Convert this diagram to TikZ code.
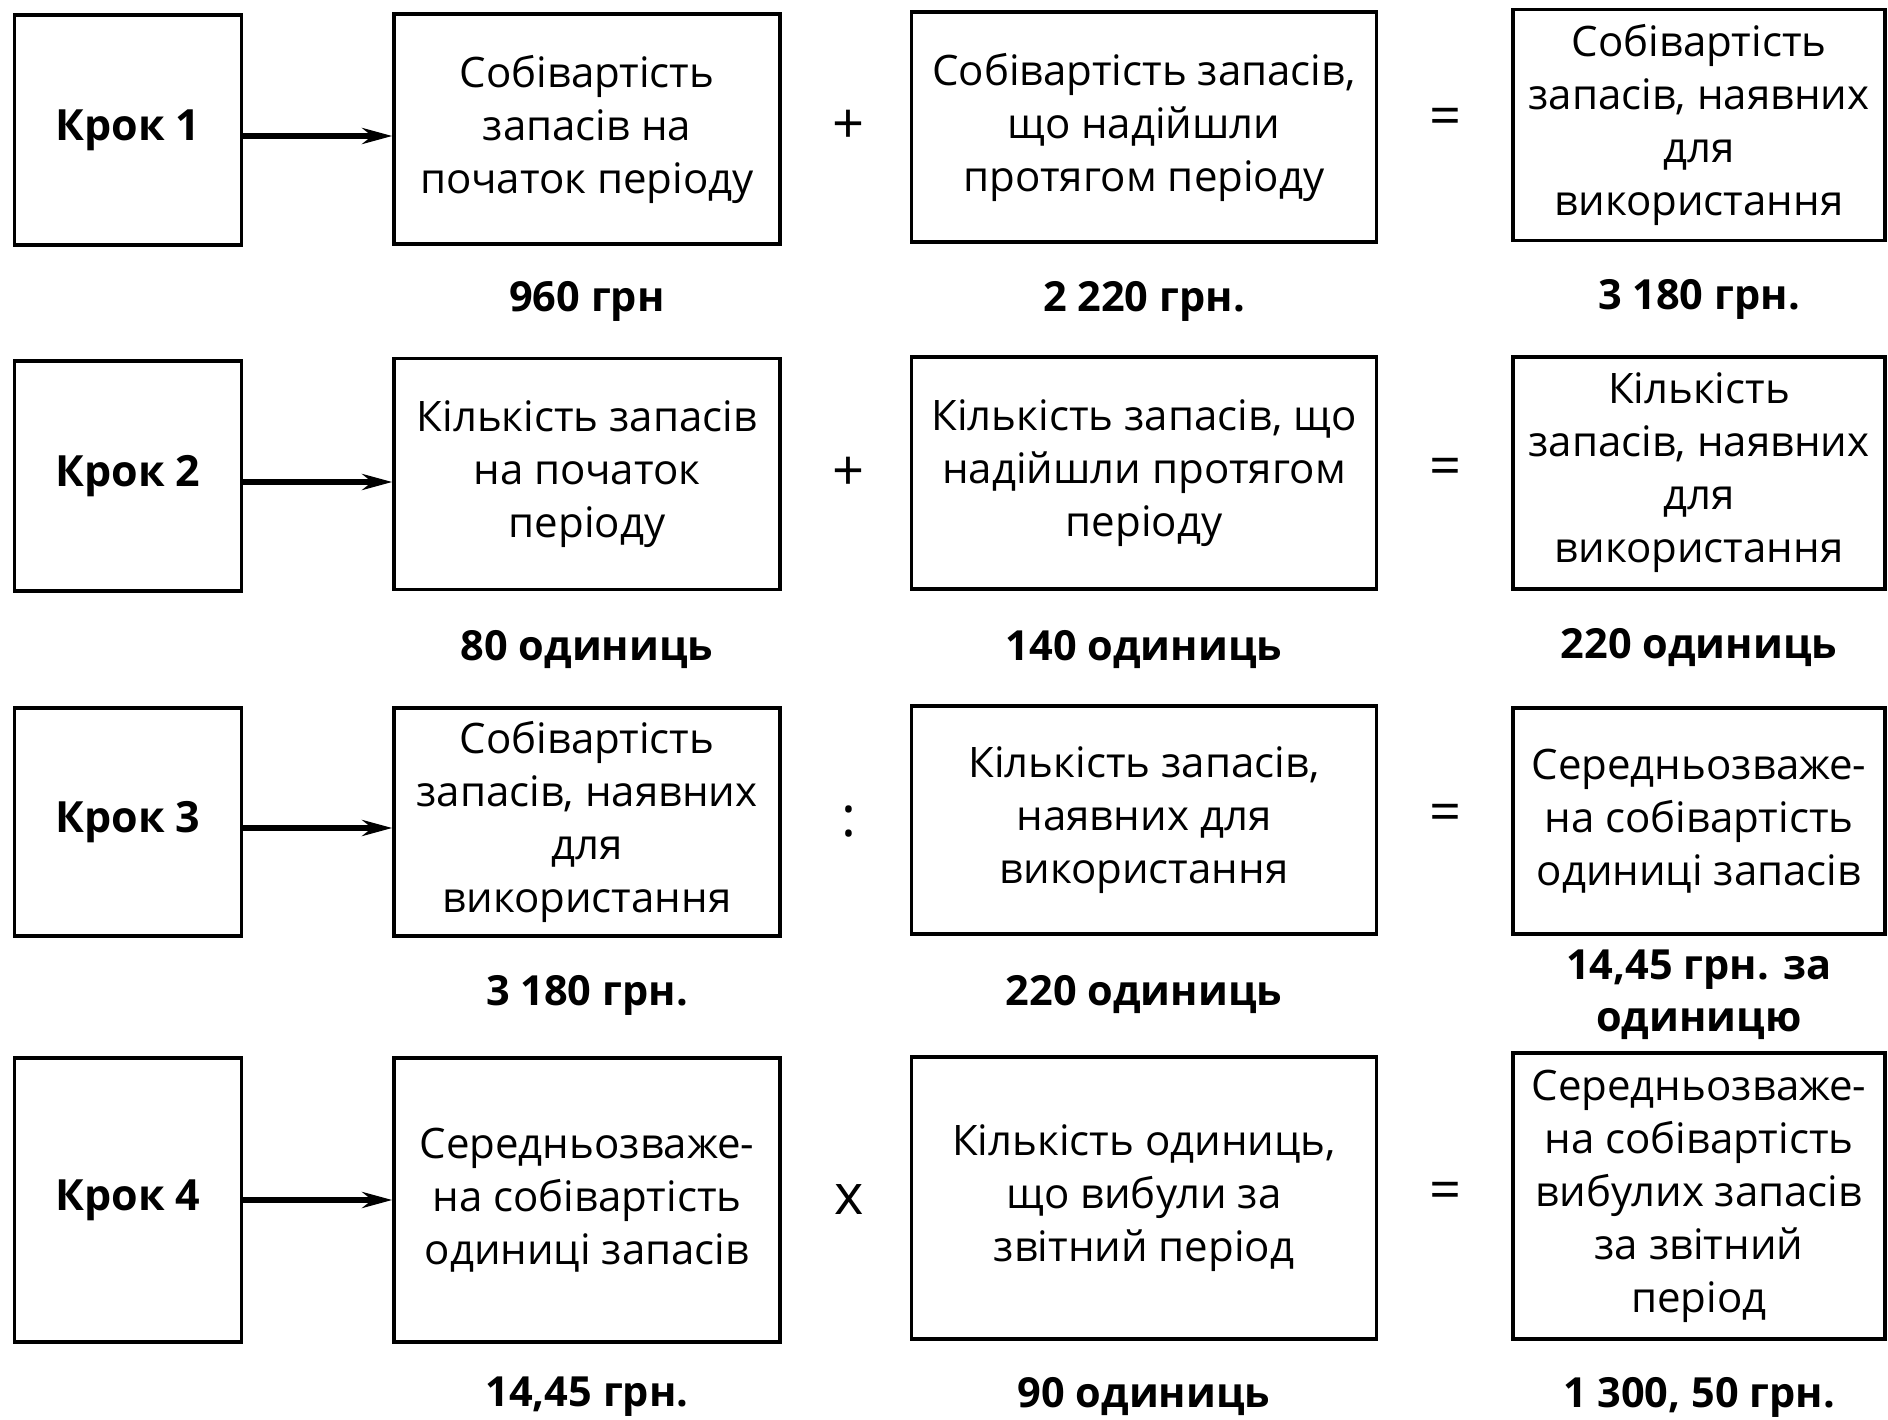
\documentclass[tikz,border=0pt]{standalone}
\usepackage{fontspec}
\setmainfont{Open Sans}
\usetikzlibrary{positioning, arrows.meta}

\begin{document}
\begin{tikzpicture}[x=1pt, y=-1pt, thick,
  stepbox/.style={draw, line width=3.5pt, align=center, inner sep=2pt, font=\fontsize{42}{53}\selectfont},
  krok/.style={stepbox, minimum width=227pt, minimum height=230pt, font=\fontsize{43}{53}\selectfont\bfseries},
  colb/.style={stepbox, minimum width=386pt},
  colc/.style={stepbox, minimum width=465pt},
  cold/.style={stepbox, minimum width=372pt},
  value/.style={align=center, font=\fontsize{41.5}{52}\selectfont\bfseries},
  op/.style={font=\fontsize{56}{60}\selectfont},
  link/.style={-{Stealth[length=30pt, width=16pt]}, line width=5.5pt}]

  \useasboundingbox (0,0) rectangle (1888,1420);

  % Row 1
  \node[krok] (k1) at (128,130) {Крок 1};
  \node[colb, minimum height=230pt] (b1) at (587,129) {Собівартість\\запасів на\\початок періоду};
  \node[colc, minimum height=230pt] (c1) at (1144,127) {Собівартість запасів,\\що надійшли\\протягом періоду};
  \node[cold, minimum height=231pt] (d1) at (1699,125) {Собівартість\\запасів, наявних\\для\\використання};
  \node[op] (p1) at (849,127) {+};
  \node[op] (e1) at (1445,122) {=};
  \node[value] (vb1) at (587,301) {960 грн};
  \node[value] (vc1) at (1144,301) {2 220 грн.};
  \node[value] (vd1) at (1699,299) {3 180 грн.};

  % Row 2
  \node[krok] (k2) at (128,476) {Крок 2};
  \node[colb, minimum height=231pt] (b2) at (587,474) {Кількість запасів\\на початок\\періоду};
  \node[colc, minimum height=232pt] (c2) at (1144,473) {Кількість запасів, що\\надійшли протягом\\періоду};
  \node[cold, minimum height=232pt] (d2) at (1699,473) {Кількість\\запасів, наявних\\для\\використання};
  \node[op] (p2) at (849,474) {+};
  \node[op] (e2) at (1445,472) {=};
  \node[value] (vb2) at (587,650) {80 одиниць};
  \node[value] (vc2) at (1144,650) {140 одиниць};
  \node[value] (vd2) at (1699,648) {220 одиниць};

  % Row 3
  \node[krok, minimum height=228pt] (k3) at (128,822) {Крок 3};
  \node[colb, minimum height=228pt] (b3) at (587,822) {Собівартість\\запасів, наявних\\для\\використання};
  \node[colc, minimum height=228pt] (c3) at (1144,820) {Кількість запасів,\\наявних для\\використання};
  \node[cold, minimum height=226pt] (d3) at (1699,821) {Середньозваже-\\на собівартість\\одиниці запасів};
  \node[op] (p3) at (849,822) {:};
  \node[op] (e3) at (1445,818) {=};
  \node[value] (vb3) at (587,995) {3 180 грн.};
  \node[value] (vc3) at (1144,995) {220 одиниць};
  \node[value] (vd3) at (1699,995) {14,45 грн. за\\одиницю};

  % Row 4
  \node[krok, minimum height=284pt] (k4) at (128,1200) {Крок 4};
  \node[colb, minimum height=284pt] (b4) at (587,1200) {Середньозваже-\\на собівартість\\одиниці запасів};
  \node[colc, minimum height=282pt] (c4) at (1144,1198) {Кількість одиниць,\\що вибули за\\звітний період};
  \node[cold, minimum height=286pt] (d4) at (1699,1196) {Середньозваже-\\на собівартість\\вибулих запасів\\за звітний\\період};
  \node[op] (p4) at (849,1200) {x};
  \node[op] (e4) at (1445,1196) {=};
  \node[value] (vb4) at (587,1397) {14,45 грн.};
  \node[value] (vc4) at (1144,1397) {90 одиниць};
  \node[value] (vd4) at (1699,1397) {1 300, 50 грн.};

  % Arrows from steps
  \draw[link] ([yshift=-6pt]k1.east) -- ([yshift=-6pt]k1.east -| b1.west);
  \draw[link] ([yshift=-6pt]k2.east) -- ([yshift=-6pt]k2.east -| b2.west);
  \draw[link] ([yshift=-6pt]k3.east) -- ([yshift=-6pt]k3.east -| b3.west);
  \draw[link] (k4) -- (k4 -| b4.west);
\end{tikzpicture}
\end{document}
